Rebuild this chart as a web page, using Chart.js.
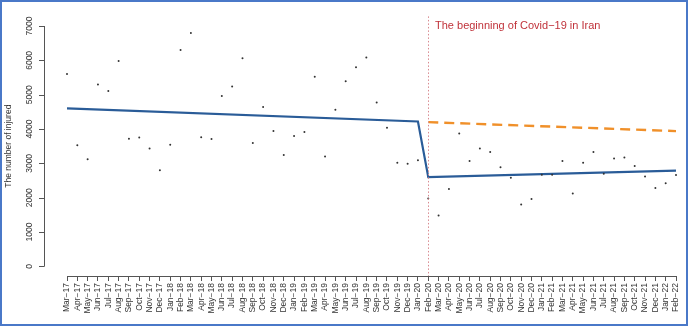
<!DOCTYPE html>
<html>
<head>
<meta charset="utf-8">
<script src="https://cdn.jsdelivr.net/npm/chart.js@4.4.1/dist/chart.umd.min.js"></script>
<style>
    html, body { margin: 0; padding: 0; background: #fff; }
    .wrap { position: relative; width: 689px; height: 327px; overflow: hidden; }
    .frame { position: absolute; left: 0; top: 0; width: 684px; height: 322px; border: 2px solid #4a78c8; pointer-events: none; }
    canvas { position: absolute; left: 0; top: 0; }
</style>
</head>
<body>
<div class="wrap">
    <canvas id="injuryChart" width="689" height="327"></canvas>
    <div class="frame"></div>
</div>
<script>
// 月份 (Mar-17 ~ Feb-22)
const months = [
    'Mar−17', 'Apr−17', 'May−17', 'Jun−17', 'Jul−17', 'Aug−17', 'Sep−17', 'Oct−17', 'Nov−17', 'Dec−17',
    'Jan−18', 'Feb−18', 'Mar−18', 'Apr−18', 'May−18', 'Jun−18', 'Jul−18', 'Aug−18', 'Sep−18', 'Oct−18', 'Nov−18', 'Dec−18',
    'Jan−19', 'Feb−19', 'Mar−19', 'Apr−19', 'May−19', 'Jun−19', 'Jul−19', 'Aug−19', 'Sep−19', 'Oct−19', 'Nov−19', 'Dec−19',
    'Jan−20', 'Feb−20', 'Mar−20', 'Apr−20', 'May−20', 'Jun−20', 'Jul−20', 'Aug−20', 'Sep−20', 'Oct−20', 'Nov−20', 'Dec−20',
    'Jan−21', 'Feb−21', 'Mar−21', 'Apr−21', 'May−21', 'Jun−21', 'Jul−21', 'Aug−21', 'Sep−21', 'Oct−21', 'Nov−21', 'Dec−21',
    'Jan−22', 'Feb−22'
];

// 每月受伤人数
const injured = [
    5600, 3530, 3120, 5300, 5110, 5980, 3720, 3750, 3430, 2800,
    3545, 6300, 6800, 3760, 3710, 4960, 5240, 6060, 3590, 4640, 3945, 3245,
    3800, 3910, 5520, 3200, 4560, 5390, 5800, 6080, 4770, 4040, 3020, 2990,
    3090, 1980, 1480, 2250, 3870, 3070, 3430, 3330, 2890, 2580, 1800, 1960,
    2670, 2670, 3070, 2120, 3020, 3330, 2700, 3140, 3170, 2920, 2620, 2280,
    2420, 2660
];

// 趋势线端点
const trendBeforeMonths = ['Mar−17', 'Jan−20'];
const trendBefore = [4600, 4220];
const trendAfterMonths = ['Feb−20', 'Feb−22'];
const trendAfter = [2600, 2790];
const trendExpected = [4200, 3940];

const covidStart = 'Feb−20';
const covidText = 'The beginning of Covid−19 in Iran';
const yTicks = [0, 1000, 2000, 3000, 4000, 5000, 6000, 7000];
const yTitle = 'The number of injured';

const FONT = '"Liberation Sans", Arial, Helvetica, sans-serif';

// 把端点放到整条月份序列上
function placeTrend(monthPairs, valuePairs) {
    const arr = months.map(() => null);
    monthPairs.forEach((m, i) => { arr[months.indexOf(m)] = valuePairs[i]; });
    return arr;
}

const blueTrend = months.map(() => null);
[[trendBeforeMonths, trendBefore], [trendAfterMonths, trendAfter]].forEach(([ms, vs]) => {
    ms.forEach((m, i) => { blueTrend[months.indexOf(m)] = vs[i]; });
});
const orangeTrend = placeTrend(trendAfterMonths, trendExpected);

// 自画 y 轴、分界线、说明文字
const annotate = {
    id: 'annotate',
    afterDraw(chart) {
        const ctx = chart.ctx;
        const x = chart.scales.x;
        const y = chart.scales.y;
        const area = chart.chartArea;

        // y 轴
        const axisX = 44;
        ctx.save();
        ctx.strokeStyle = '#555';
        ctx.lineWidth = 1;
        ctx.beginPath();
        ctx.moveTo(axisX + 0.5, y.getPixelForValue(yTicks[0]));
        ctx.lineTo(axisX + 0.5, y.getPixelForValue(yTicks[yTicks.length - 1]));
        yTicks.forEach(v => {
            const py = Math.round(y.getPixelForValue(v)) + 0.5;
            ctx.moveTo(axisX + 0.5, py);
            ctx.lineTo(axisX - 5, py);
        });
        ctx.stroke();

        ctx.fillStyle = '#333';
        ctx.font = '8.5px ' + FONT;
        ctx.textAlign = 'center';
        ctx.textBaseline = 'middle';
        yTicks.forEach(v => {
            ctx.save();
            ctx.translate(30, y.getPixelForValue(v));
            ctx.rotate(-Math.PI / 2);
            ctx.fillText(String(v), 0, 0);
            ctx.restore();
        });

        ctx.save();
        ctx.translate(9, (area.top + area.bottom) / 2);
        ctx.rotate(-Math.PI / 2);
        ctx.fillText(yTitle, 0, 0);
        ctx.restore();

        // Covid 开始分界线
        const cx = Math.round(x.getPixelForValue(months.indexOf(covidStart))) + 0.5;
        ctx.strokeStyle = '#d98a90';
        ctx.setLineDash([1.5, 2]);
        ctx.beginPath();
        ctx.moveTo(cx, area.top);
        ctx.lineTo(cx, area.bottom);
        ctx.stroke();
        ctx.setLineDash([]);

        ctx.fillStyle = '#c0323a';
        ctx.font = '11px ' + FONT;
        ctx.textAlign = 'left';
        ctx.textBaseline = 'alphabetic';
        ctx.fillText(covidText, cx + 6.5, 28.5);
        ctx.restore();
    }
};

new Chart(document.getElementById('injuryChart'), {
    type: 'line',
    data: {
        labels: months,
        datasets: [
            {
                label: 'injured',
                data: injured,
                showLine: false,
                pointRadius: 1,
                pointBorderWidth: 0,
                pointBackgroundColor: '#333'
            },
            {
                label: 'trend',
                data: blueTrend,
                spanGaps: true,
                borderColor: '#2a5c98',
                borderWidth: 2.2,
                pointRadius: 0,
                tension: 0
            },
            {
                label: 'expected',
                data: orangeTrend,
                spanGaps: true,
                borderColor: '#f0902a',
                borderWidth: 2.4,
                borderDash: [10, 6],
                pointRadius: 0,
                tension: 0
            }
        ]
    },
    options: {
        responsive: false,
        animation: false,
        layout: { padding: { left: 67, right: 13, top: 16.4, bottom: 0 } },
        plugins: { legend: { display: false }, tooltip: { enabled: false } },
        scales: {
            x: {
                type: 'category',
                offset: false,
                grid: { display: true, drawOnChartArea: false, drawTicks: true, tickLength: 5, color: '#555' },
                border: { display: true, color: '#555', width: 1 },
                ticks: {
                    autoSkip: false,
                    maxRotation: 90,
                    minRotation: 90,
                    padding: 2,
                    color: '#333',
                    font: { family: FONT, size: 8.5 }
                },
                afterFit(scale) { scale.height = 51; }
            },
            y: {
                display: false,
                min: -280,
                max: 7280
            }
        }
    },
    plugins: [annotate]
});
</script>
</body>
</html>
